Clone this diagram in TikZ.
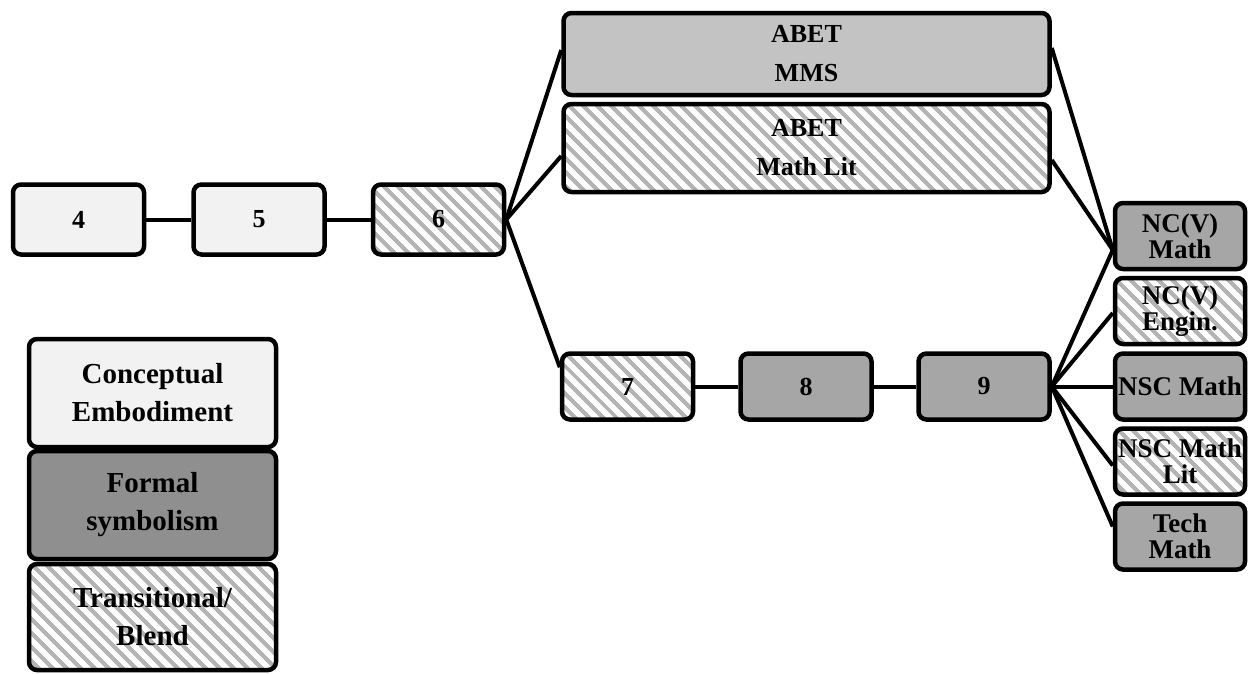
\documentclass[tikz,border=0pt]{standalone}
\usepackage{fontspec}
\setmainfont{Liberation Serif}
\usetikzlibrary{patterns.meta}
\definecolor{concept}{HTML}{F2F2F2}
\definecolor{formalL}{HTML}{8F8F8F}
\definecolor{formal}{HTML}{A6A6A6}
\definecolor{abet}{HTML}{C3C3C3}
\definecolor{hatch}{HTML}{B4B4B4}
\begin{document}
\begin{tikzpicture}[x=1pt,y=1pt,
  box/.style={draw=black, line width=4.5pt, rounded corners=8pt, inner sep=0pt,
    align=center, font=\bfseries\fontsize{26}{30}\selectfont},
  conc/.style={box, fill=concept},
  form/.style={box, fill=formal},
  formL/.style={box, fill=formalL},
  ab/.style={box, fill=abet},
  trans/.style={box, preaction={fill=white}, pattern={Lines[angle=-45,distance=10.5pt,line width=4.5pt]}, pattern color=hatch},
  conn/.style={line width=4pt},
  small/.style={minimum width=131pt, minimum height=70pt},
  right/.style={minimum width=130pt, minimum height=66pt, font=\bfseries\fontsize{27}{26}\selectfont},
  leg/.style={minimum width=247pt, minimum height=108pt, font=\bfseries\fontsize{29}{38}\selectfont}
  ]
\useasboundingbox (0,0) rectangle (1248,-673);
% main chain
\node[conc, small] (b4) at (78.5,-219.5) {4};
\node[conc, small] (b5) at (259,-219.5) {5};
\node[trans, small] (b6) at (438.5,-219.5) {6};
\node[ab, minimum width=486pt, minimum height=82pt, font=\bfseries\fontsize{26}{39}\selectfont] (mms) at (806.5,-54) {ABET\\MMS};
\node[trans, minimum width=486pt, minimum height=88pt, font=\bfseries\fontsize{26}{39}\selectfont] (lit) at (806.5,-148) {ABET\\Math Lit};
\node[trans, small, minimum height=66pt] (b7) at (627.5,-386.5) {7};
\node[form, small, minimum height=66pt] (b8) at (806,-386.5) {8};
\node[form, small, minimum height=66pt] (b9) at (984,-386.5) {9};
% right column
\node[form, right] (r1) at (1180,-236) {NC(V)\\Math};
\node[trans, right] (r2) at (1180,-311) {NC(V)\\Engin.};
\node[form, right] (r3) at (1180,-386.5) {NSC Math};
\node[trans, right] (r4) at (1180,-461.5) {NSC Math\\Lit};
\node[form, right] (r5) at (1180,-536.5) {Tech\\Math};
% legend
\node[conc, leg] (l1) at (152.5,-393) {Conceptual\\Embodiment};
\node[formL, leg] (l2) at (152.5,-505) {Formal\\symbolism};
\node[trans, leg, minimum height=106pt] (l3) at (152.5,-617) {Transitional/\\Blend};
% connectors
\draw[conn] (b4.east) -- (b5.west);
\draw[conn] (b5.east) -- (b6.west);
\draw[conn] (b6.east) -- ([yshift=4pt]mms.west);
\draw[conn] (b6.east) -- ([yshift=-8pt]lit.west);
\draw[conn] (b6.east) -- ([yshift=-16pt]b7.north west);
\draw[conn] (b7.east) -- (b8.west);
\draw[conn] (b8.east) -- (b9.west);
\draw[conn] ([yshift=6pt]mms.east) -- ([yshift=-14pt]r1.west);
\draw[conn] ([yshift=-12pt]lit.east) -- ([yshift=-14pt]r1.west);
\draw[conn] (b9.east) -- ([yshift=-14pt]r1.west);
\draw[conn] (b9.east) -- ([yshift=-2pt]r2.west);
\draw[conn] (b9.east) -- (r3.west);
\draw[conn] (b9.east) -- ([yshift=-4pt]r4.west);
\draw[conn] (b9.east) -- ([yshift=10pt]r5.west);
\end{tikzpicture}
\end{document}
